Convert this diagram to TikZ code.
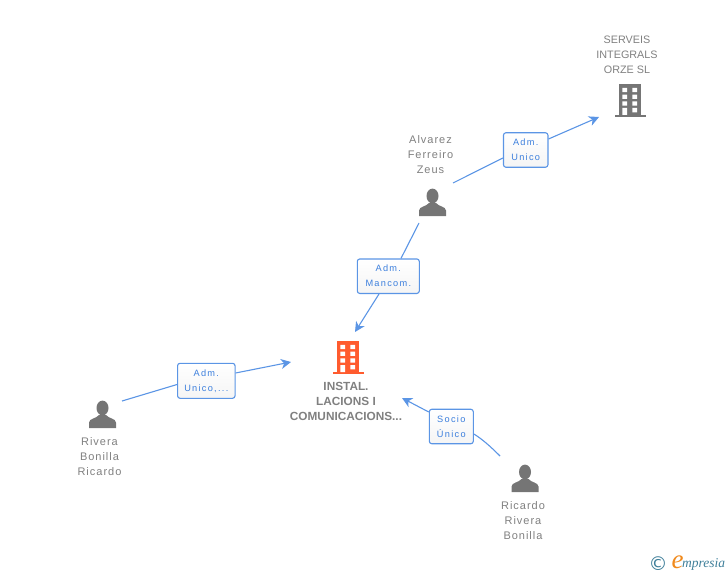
\documentclass[tikz,border=0pt]{standalone}
\usepackage{fontspec}
\setmainfont{Liberation Sans}
\newfontfamily\spaced[LetterSpace=9]{Liberation Sans}
\newfontfamily\labelfont[LetterSpace=14]{Liberation Sans}
\newfontfamily\logofont{DejaVu Sans}
\newfontfamily\logoserif{Liberation Serif}
\usetikzlibrary{arrows.meta}
\definecolor{txtgrey}{HTML}{808080}
\definecolor{icongrey}{HTML}{757575}
\definecolor{iconorange}{HTML}{FF5B2E}
\definecolor{linkblue}{HTML}{5B95E5}
\definecolor{labelblue}{HTML}{3C7FDD}
\definecolor{logoteal}{HTML}{3F7F9A}
\definecolor{logoorange}{HTML}{F08A1D}
\tikzset{
  lbl/.style={draw=linkblue,line width=1.1pt,rounded corners=2.5pt,top color=white,bottom color=white!96!black,
    text=labelblue,inner sep=0pt,align=center,font=\labelfont\fontsize{9.2}{15}\selectfont},
  entname/.style={text=txtgrey,align=center,inner sep=0pt,font=\spaced\fontsize{11}{15}\selectfont},
  compname/.style={text=txtgrey,align=center,inner sep=0pt,font=\fontsize{10.8}{15}\selectfont},
  mainname/.style={text=txtgrey,align=center,inner sep=0pt,font=\bfseries\fontsize{11.8}{15}\selectfont},
  link/.style={draw=linkblue,line width=1.1pt},
  linkarrow/.style={link,-{Stealth[length=10pt,width=10pt,inset=3pt]}},
  pics/building/.style={code={
    \fill[#1] (-11,-16.5) rectangle (11,14.5);
    \fill[#1] (-15.5,14.5) rectangle (16,16.5);
    \fill[white] (-7.6,-12.6) rectangle (-2.8,-8.3) (2.4,-12.6) rectangle (7.2,-8.3)
      (-7.6,-5.9) rectangle (-2.8,-1.6) (2.4,-5.9) rectangle (7.2,-1.6)
      (-7.6,0.8) rectangle (-2.8,5.1) (2.4,0.8) rectangle (7.2,5.1)
      (-7.6,7.5) rectangle (-2.8,14.5) (2.4,7.5) rectangle (7.2,11.8);
  }},
  pics/person/.style={code={
    \fill[icongrey] (0,7) ellipse (6 and 7.4);
    \fill[icongrey] (-13.5,27) -- (-13.5,21.5) .. controls (-13.5,17.5) and (-6,17.5) .. (-3.5,14)
      -- (3.5,14) .. controls (6,17.5) and (13.5,17.5) .. (13.5,21.5) -- (13.5,27) -- cycle;
  }}
}
\begin{document}
\begin{tikzpicture}[x=1pt,y=-1pt]
\useasboundingbox (0,0) rectangle (728,575);
% icons
\pic at (348,357.5) {building=iconorange};
\pic at (630,100.5) {building=icongrey};
\pic at (432.5,189) {person};
\pic at (102.5,401) {person};
\pic at (525,465) {person};
% texts
\node[compname] (serveis) at (627,55) {SERVEIS\\INTEGRALS\\ORZE SL};
\node[entname] (alvarez) at (430.5,155) {Alvarez\\Ferreiro\\Zeus};
\node[mainname] (instal) at (346,401.3) {INSTAL.\\LACIONS I\\COMUNICACIONS...};
\node[entname] (rivera) at (99.5,456.5) {Rivera\\Bonilla\\Ricardo};
\node[entname] (ricardo) at (523,520.5) {Ricardo\\Rivera\\Bonilla};
% labels
\node[lbl,minimum width=44.5pt,minimum height=34.5pt] (b1) at (525.7,150) {Adm.\\Unico};
\node[lbl,minimum width=62pt,minimum height=34.5pt] (b2) at (388.3,276.2) {Adm.\\Mancom.};
\node[lbl,minimum width=57.5pt,minimum height=35pt] (b3) at (206.3,380.8) {Adm.\\Unico,...};
\node[lbl,minimum width=44pt,minimum height=34.5pt] (b4) at (451.3,426.5) {Socio\\Único};
% connector ends
\coordinate (a1) at (453,183);
\coordinate (t1) at (599,117);
\coordinate (a2) at (419,223);
\coordinate (t2) at (355,332);
\coordinate (a3) at (122,401);
\coordinate (t3) at (291,362);
\coordinate (a4) at (500,456);
\coordinate (t4) at (402,398);
% connectors
\draw[link] (a1) -- (b1.west |- 0,158);
\draw[linkarrow] (b1.east |- 0,139) -- (t1);
\draw[link] (a2) -- (b2.north -| 401,0);
\draw[linkarrow] (b2.south -| 379,0) -- (t2);
\draw[link] (a3) -- (b3.west |- 0,384.5);
\draw[linkarrow] (b3.east |- 0,373) -- (t3);
\draw[link] (a4) .. controls (490,446) and (482,439) .. (b4.east |- 0,434);
\draw[linkarrow] (b4.west |- 0,412) -- (t4);
% logo
\node[inner sep=0pt,text=logoteal,font=\logofont\fontsize{19}{19}\selectfont] (copy) at (658,564) {©};
\node[inner sep=0pt,text=logoorange,font=\logoserif\itshape\fontsize{27}{27}\selectfont] (elogo) at (677.5,562.5) {e};
\node[inner sep=0pt,text=logoteal,anchor=west,font=\logoserif\itshape\fontsize{13.5}{13.5}\selectfont] (mlogo) at (682,564.5) {mpresia};
\end{tikzpicture}
\end{document}
